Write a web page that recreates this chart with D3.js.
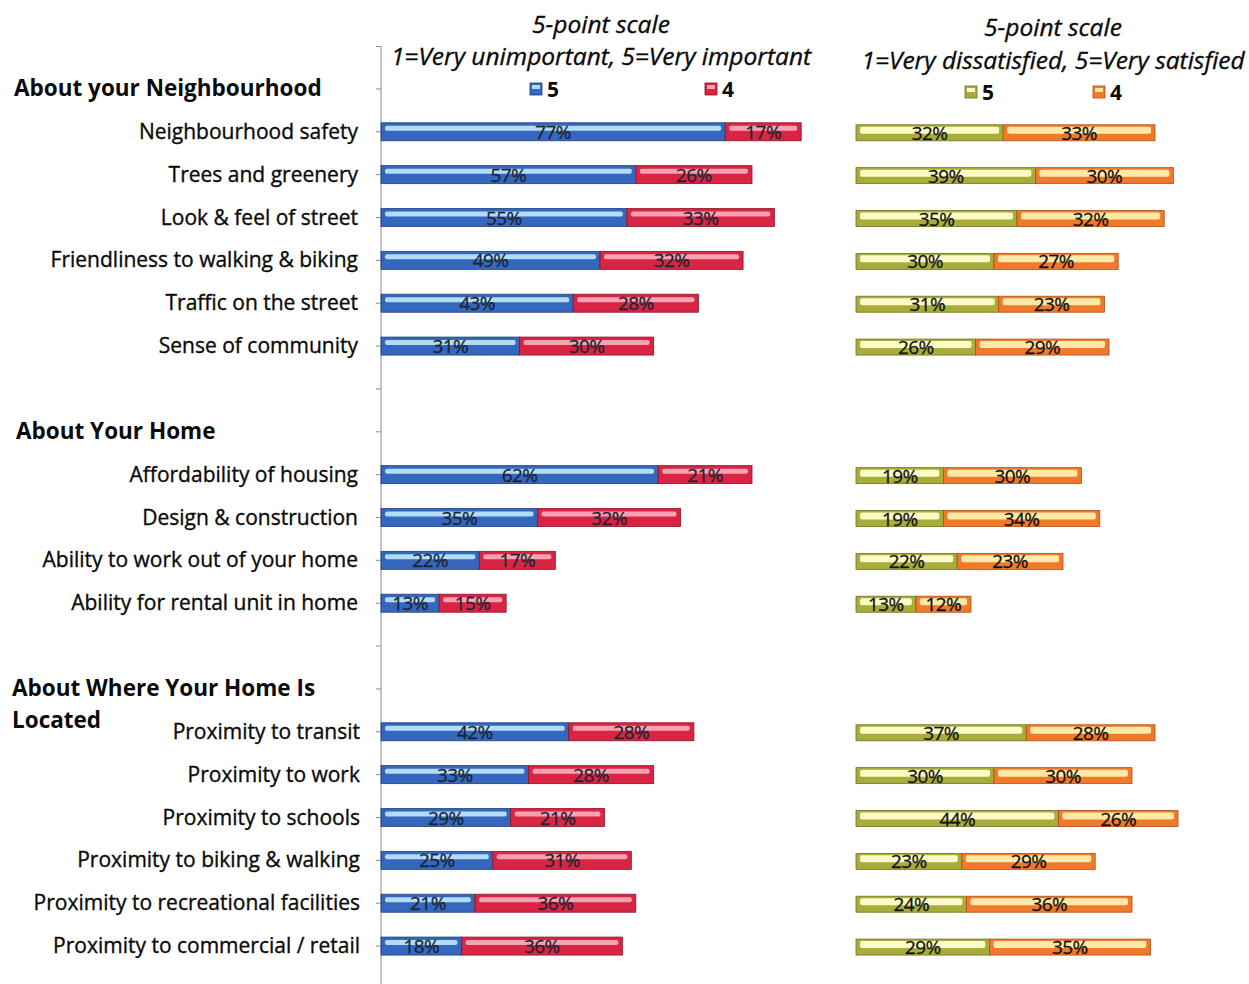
<!DOCTYPE html>
<html>
<head>
<meta charset="utf-8">
<script src="https://cdn.jsdelivr.net/npm/d3@7"></script>
<style>
  html, body { margin: 0; padding: 0; background: #fff; }
  svg { display: block; font-family: "Open Sans", Lato, sans-serif; }
</style>
</head>
<body>
<svg id="chart" width="1249" height="984"></svg>
<script>
// Survey sections and the items asked under each
const sections = ["About your Neighbourhood", "About Your Home", "About Where Your Home Is Located"];
const categories = [
  "Neighbourhood safety", "Trees and greenery", "Look & feel of street",
  "Friendliness to walking & biking", "Traffic on the street", "Sense of community",
  "Affordability of housing", "Design & construction", "Ability to work out of your home",
  "Ability for rental unit in home",
  "Proximity to transit", "Proximity to work", "Proximity to schools",
  "Proximity to biking & walking", "Proximity to recreational facilities",
  "Proximity to commercial / retail"
];
const sectionOf = [0, 0, 0, 0, 0, 0, 1, 1, 1, 1, 2, 2, 2, 2, 2, 2];

// Importance ratings (% answering 5 and 4)
const importance5 = [77, 57, 55, 49, 43, 31, 62, 35, 22, 13, 42, 33, 29, 25, 21, 18];
const importance4 = [17, 26, 33, 32, 28, 30, 21, 32, 17, 15, 28, 28, 21, 31, 36, 36];
// Satisfaction ratings (% answering 5 and 4)
const satisfaction5 = [32, 39, 35, 30, 31, 26, 19, 19, 22, 13, 37, 30, 44, 23, 24, 29];
const satisfaction4 = [33, 30, 32, 27, 23, 29, 30, 34, 23, 12, 28, 30, 26, 29, 36, 35];

const legendLabels = ["5", "4"];
const importanceTitle = ["5-point scale", "1=Very unimportant, 5=Very important"];
const satisfactionTitle = ["5-point scale", "1=Very dissatisfied, 5=Very satisfied"];

// Row layout: section header, its items, and a blank spacer between sections
const rows = [];
sections.forEach((s, si) => {
  if (si > 0) rows.push({ id: "gap" + si, type: "gap" });
  rows.push({ id: "head" + si, type: "head", section: si });
  categories.forEach((c, i) => {
    if (sectionOf[i] === si) rows.push({ id: "item" + i, type: "item", index: i, name: c });
  });
});
const items = rows.filter(r => r.type === "item");

const svg = d3.select("#chart");

const y = d3.scaleBand().domain(rows.map(r => r.id)).range([67.5, 967.5]);
const yc = id => y(id) + y.bandwidth() / 2;

const xImp = d3.scaleLinear().domain([0, 100]).range([381, 828]);
const xSat = d3.scaleLinear().domain([0, 100]).range([856, 1316]);

const palettes = {
  imp5: { base: "#3467bd", dark: "#1f3f80", light: "#b3dcf7" },
  imp4: { base: "#d92443", dark: "#8a1426", light: "#f7a1b2" },
  sat5: { base: "#a8ac3a", dark: "#6f7220", light: "#fbfbc6" },
  sat4: { base: "#f07a2c", dark: "#b44d12", light: "#fde9a6" }
};

// Glossy segment: base bar plus an inset highlight strip along the top
function drawSegments(g, x, v0, v1, pal0, pal1, h, hlTop, hlH, off, labelColor) {
  const segs = [];
  items.forEach(r => {
    const a = v0[r.index], b = v1[r.index];
    segs.push({ r, start: 0, val: a, pal: pal0 });
    segs.push({ r, start: a, val: b, pal: pal1 });
  });
  const sg = g.selectAll("g.seg").data(segs).join("g").attr("class", "seg");
  sg.append("rect")
    .attr("x", d => x(d.start))
    .attr("y", d => yc(d.r.id) + off - h / 2)
    .attr("width", d => x(d.start + d.val) - x(d.start))
    .attr("height", h)
    .attr("fill", d => d.pal.base)
    .attr("stroke", d => d.pal.dark)
    .attr("stroke-width", 0.8);
  sg.append("rect")
    .attr("x", d => x(d.start) + 4)
    .attr("y", d => yc(d.r.id) + off - h / 2 + hlTop)
    .attr("width", d => Math.max(0, x(d.start + d.val) - x(d.start) - 8))
    .attr("height", hlH)
    .attr("rx", 2)
    .attr("fill", d => d.pal.light);
  sg.append("text")
    .attr("x", d => (x(d.start) + x(d.start + d.val)) / 2)
    .attr("y", d => yc(d.r.id) + off + 7)
    .attr("text-anchor", "middle")
    .attr("font-size", 19)
    .attr("letter-spacing", -0.6)
    .attr("fill", labelColor)
    .attr("stroke", labelColor)
    .attr("stroke-width", 0.3)
    .text(d => d.val + "%");
}

// Left axis with ticks at each row
const axisG = svg.append("g")
  .attr("transform", `translate(${xImp(0)},0)`)
  .call(d3.axisLeft(y).tickSize(5).tickFormat("").tickSizeOuter(0));
axisG.select(".domain").remove();
axisG.selectAll(".tick line").attr("stroke", "#8c8c8c");
axisG.append("path")
  .attr("d", `M-5,46.5H0V984`)
  .attr("fill", "none")
  .attr("stroke", "#8c8c8c");

// Item labels and section headers
const labelG = svg.append("g");
labelG.selectAll("text.item").data(items).join("text")
  .attr("class", "item")
  .attr("x", d => sectionOf[d.index] === 2 ? 360 : 358)
  .attr("y", d => yc(d.id) + 7)
  .attr("text-anchor", "end")
  .attr("font-size", 21)
  .attr("fill", "#0a0a0a")
  .attr("stroke", "#0a0a0a")
  .attr("stroke-width", 0.35)
  .text(d => d.name);

const heads = rows.filter(r => r.type === "head");
const headG = labelG.selectAll("text.head").data(heads).join("text")
  .attr("class", "head")
  .attr("x", d => d.section === 1 ? 16 : (d.section === 2 ? 12 : 14))
  .attr("y", d => yc(d.id) + 7)
  .attr("font-size", 22.5)
  .attr("font-weight", "bold")
  .attr("fill", "#0a0a0a");
headG.each(function (d) {
  const t = d3.select(this);
  const name = sections[d.section];
  if (d.section === 2) {
    t.append("tspan").attr("x", 12).text("About Where Your Home Is");
    t.append("tspan").attr("x", 12).attr("dy", 32).text("Located");
  } else {
    t.text(name);
  }
});

// Bars
drawSegments(svg.append("g"), xImp, importance5, importance4, palettes.imp5, palettes.imp4, 18, 3, 5, 0, "#1c2433");
drawSegments(svg.append("g"), xSat, satisfaction5, satisfaction4, palettes.sat5, palettes.sat4, 16, 2, 7, 1, "#111");

// Titles
function drawTitle(lines, cx, y0, y1) {
  [[lines[0], y0], [lines[1], y1]].forEach(([txt, ty]) => {
    svg.append("text").attr("x", cx).attr("y", ty).attr("text-anchor", "middle")
      .attr("font-size", 24.5).attr("font-style", "italic")
      .attr("fill", "#0a0a0a").attr("stroke", "#0a0a0a").attr("stroke-width", 0.35)
      .text(txt);
  });
}
drawTitle(importanceTitle, 601, 33, 65);
drawTitle(satisfactionTitle, 1053, 36, 69);

// Legends
function drawLegend(xs, yTop, pals) {
  xs.forEach((lx, i) => {
    const p = pals[i];
    svg.append("rect").attr("x", lx).attr("y", yTop).attr("width", 12).attr("height", 12)
      .attr("fill", p.base).attr("stroke", p.dark).attr("stroke-width", 0.8);
    svg.append("rect").attr("x", lx + 2).attr("y", yTop + 2).attr("width", 8).attr("height", 4)
      .attr("fill", p.light);
    svg.append("text").attr("x", lx + 17).attr("y", yTop + 14)
      .attr("font-size", 21).attr("font-weight", "bold").attr("fill", "#0a0a0a").text(legendLabels[i]);
  });
}
drawLegend([530, 705], 83, [palettes.imp5, palettes.imp4]);
drawLegend([965, 1093], 86, [palettes.sat5, palettes.sat4]);
</script>
</body>
</html>
